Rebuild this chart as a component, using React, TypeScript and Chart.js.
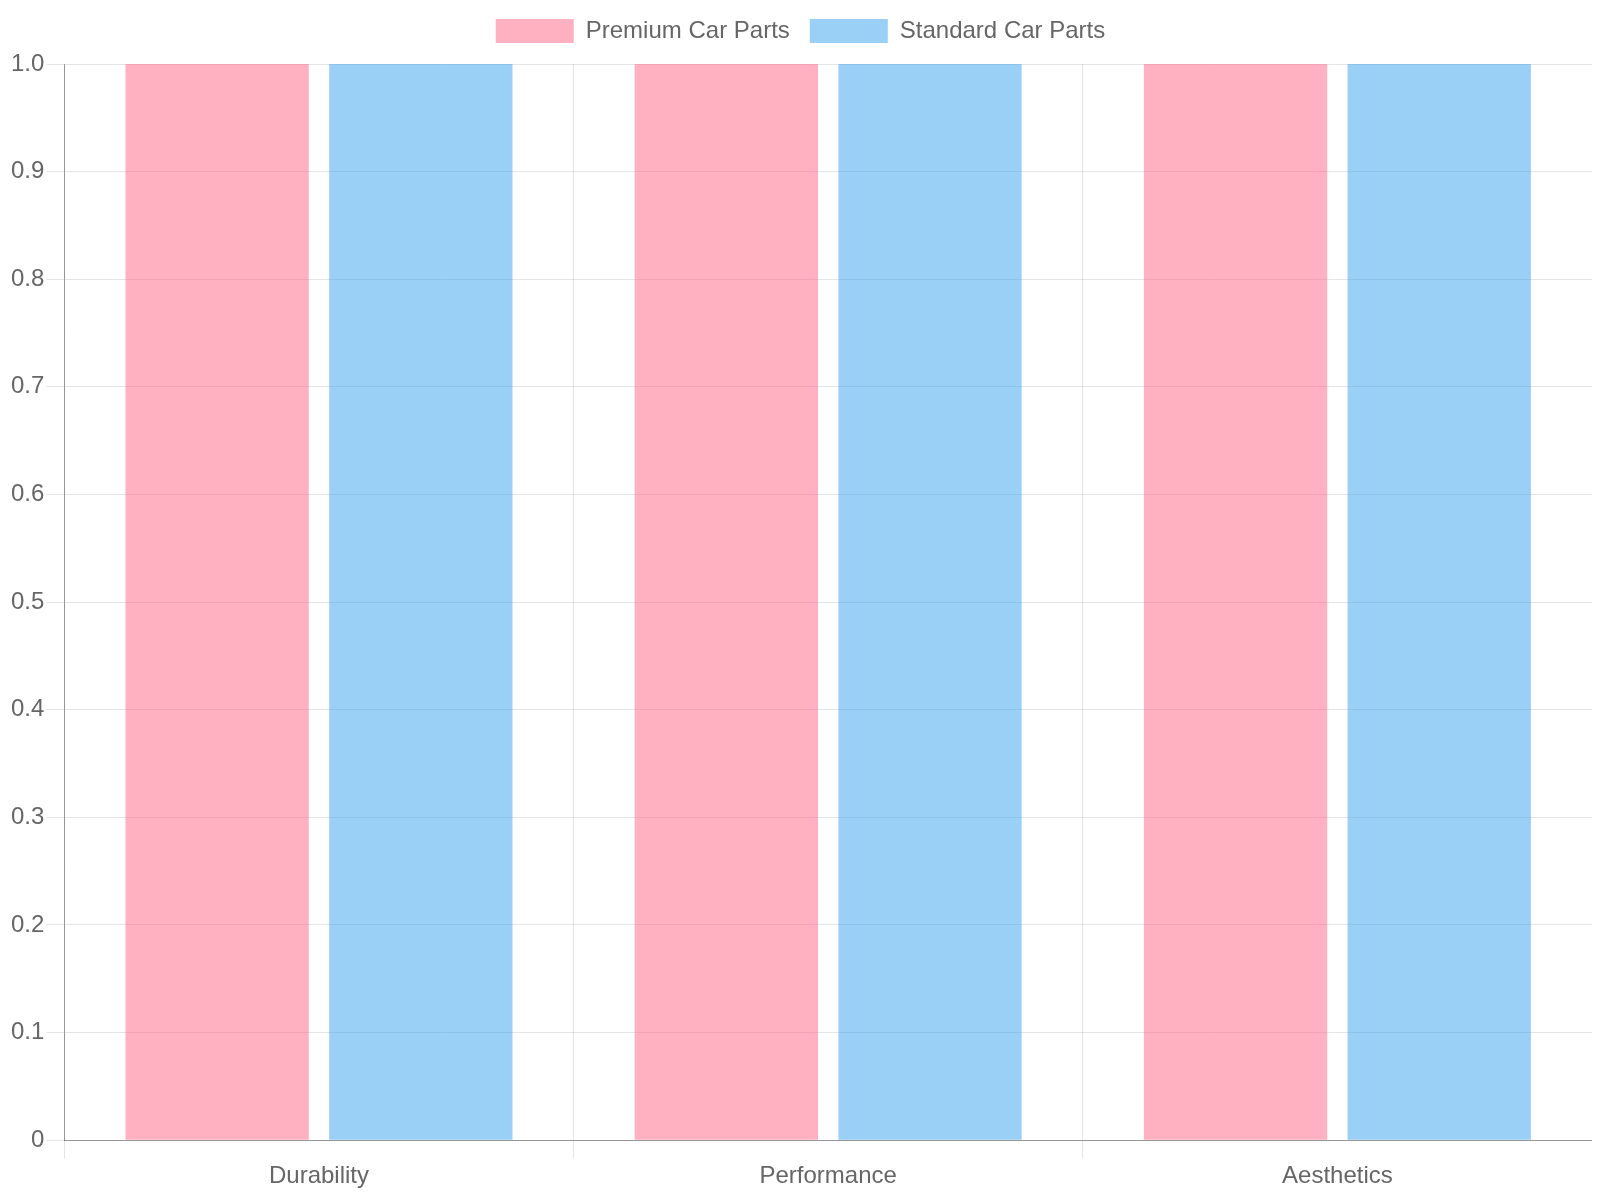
import { useEffect, useRef } from "react";
import { Chart, registerables } from "chart.js";

Chart.register(...registerables);

const categories = ["Durability", "Performance", "Aesthetics"];
const premiumValues = [1, 1, 1];
const standardValues = [1, 1, 1];

// adds a little room under the legend
const legendMargin = {
  id: "legendMargin",
  beforeInit(chart: any) {
    const fit = chart.legend.fit;
    chart.legend.fit = function () {
      fit.bind(chart.legend)();
      this.height += 11;
    };
  },
};

const App = () => {
  const canvasRef = useRef<HTMLCanvasElement | null>(null);

  useEffect(() => {
    if (!canvasRef.current) return;
    const chart = new Chart(canvasRef.current, {
      type: "bar",
      data: {
        labels: categories,
        datasets: [
          {
            label: "Premium Car Parts",
            data: premiumValues,
            backgroundColor: "rgba(255, 99, 132, 0.5)",
            borderWidth: 0,
          },
          {
            label: "Standard Car Parts",
            data: standardValues,
            backgroundColor: "rgba(54, 162, 235, 0.5)",
            borderWidth: 0,
          },
        ],
      },
      options: {
        animation: false,
        responsive: true,
        maintainAspectRatio: false,
        layout: { padding: { top: -9, left: 1 } },
        plugins: {
          legend: {
            labels: {
              color: "#666",
              boxWidth: 78,
              boxHeight: 24,
              padding: 20,
              font: { size: 24 },
            },
          },
          tooltip: { enabled: false },
        },
        scales: {
          x: {
            ticks: { color: "#666", font: { size: 24 }, padding: 4 },
            grid: { color: "rgba(0,0,0,0.1)", tickLength: 18 },
            border: { color: "rgba(0,0,0,0.35)" },
          },
          y: {
            min: 0,
            max: 1,
            ticks: { color: "#666", font: { size: 24 }, stepSize: 0.1, padding: 2 },
            grid: { color: "rgba(0,0,0,0.1)", tickLength: 18 },
            border: { color: "rgba(0,0,0,0.35)" },
          },
        },
      },
      plugins: [legendMargin],
    });
    return () => chart.destroy();
  }, []);

  return (
    <div style={{ height: 1187, position: "relative" }}>
      <canvas ref={canvasRef} />
    </div>
  );
};

export default App;
